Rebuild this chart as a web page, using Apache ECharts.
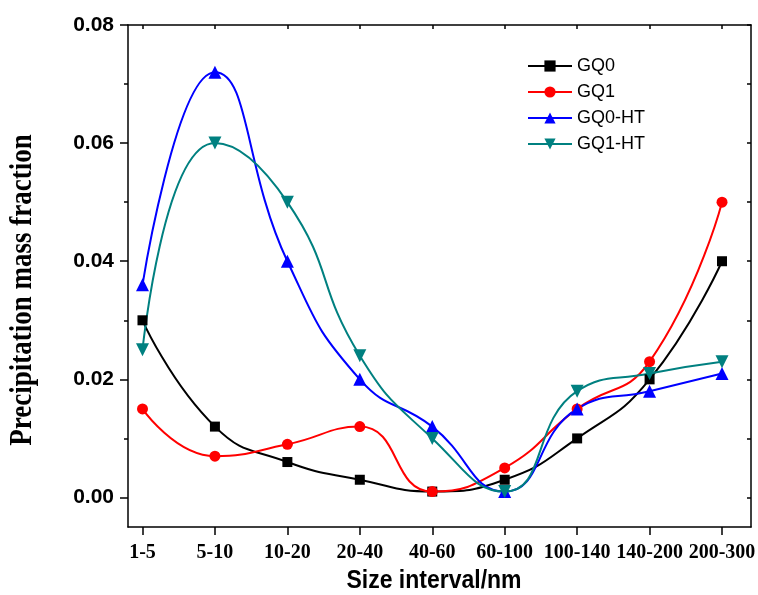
<!DOCTYPE html>
<html><head><meta charset="utf-8">
<script src="https://cdn.jsdelivr.net/npm/echarts@6/dist/echarts.min.js"></script>
<style>html,body{margin:0;padding:0;background:#fff}#c{width:758px;height:595px}</style>
</head><body><div id="c"></div>
<script>
const categories = ['1-5','5-10','10-20','20-40','40-60','60-100','100-140','140-200','200-300'];
const gq0   = [0.030,0.012,0.006,0.003,0.001,0.003,0.010,0.020,0.040];
const gq1   = [0.015,0.007,0.009,0.012,0.001,0.005,0.015,0.023,0.050];
const gq0ht = [0.036,0.072,0.040,0.020,0.012,0.001,0.015,0.018,0.021];
const gq1ht = [0.025,0.060,0.050,0.024,0.010,0.001,0.018,0.021,0.023];
const yTicks = [0,0.02,0.04,0.06,0.08];
const yMinorTicks = [0.01,0.03,0.05,0.07];
const yAllTicks = [0,0.01,0.02,0.03,0.04,0.05,0.06,0.07,0.08];

const idx = categories.map((c,i)=>i);
const toPts = arr => arr.map((v,i)=>[i,v]);

const chart = echarts.init(document.getElementById('c'), null, {renderer:'canvas'});
const axisLine = {show:true, onZero:false, lineStyle:{color:'#000', width:1.5}};
const xBase = {type:'value', min:-0.2, max:8.4, splitLine:{show:false}};
const yBase = {type:'value', min:-0.005, max:0.08, splitLine:{show:false}};

const mk = (name, data, color, symbol, size, rot) => ({
  name, type:'line', data: toPts(data), smooth:true,
  symbol, symbolSize:size, symbolRotate: rot||0,
  lineStyle:{color, width:2}, itemStyle:{color},
  xAxisIndex:0, yAxisIndex:0
});

chart.setOption({
  animation:false,
  backgroundColor:'#fff',
  grid:{left:128, right:7, top:25, bottom:68, containLabel:false, outerBoundsMode:'none'},
  legend:{
    data:['GQ0','GQ1','GQ0-HT','GQ1-HT'],
    orient:'vertical', left:522, top:51,
    itemWidth:44, itemHeight:14, itemGap:6,
    textStyle:{fontSize:18, fontFamily:'"Liberation Sans", Arial', color:'#000', lineHeight:20}
  },
  xAxis:[
    Object.assign({}, xBase, {position:'bottom', axisLine,
      axisTick:{show:true, inside:false, length:8, customValues:idx, lineStyle:{color:'#000', width:1.5}},
      axisLabel:{show:true, customValues:idx, margin:16, formatter:v=>categories[Math.round(v)],
        fontFamily:'"Liberation Serif", "Times New Roman", serif', fontWeight:'bold', fontSize:20, color:'#000'}}),
    Object.assign({}, xBase, {position:'top', axisLine,
      axisTick:{show:true, inside:true, length:4, customValues:idx, lineStyle:{color:'#000', width:1.5}},
      axisLabel:{show:false}})
  ],
  yAxis:[
    Object.assign({}, yBase, {position:'left', axisLine,
      axisTick:{show:true, inside:false, length:8, customValues:yTicks, lineStyle:{color:'#000', width:1.5}},
      axisLabel:{show:true, customValues:yTicks, margin:14, formatter:v=>Number(v).toFixed(2),
        fontFamily:'"Liberation Sans", Arial', fontWeight:'bold', fontSize:21, color:'#000'}}),
    Object.assign({}, yBase, {position:'left', axisLine:{show:false, onZero:false},
      axisTick:{show:true, inside:false, length:4, customValues:yMinorTicks, lineStyle:{color:'#000', width:1.5}},
      axisLabel:{show:false}}),
    Object.assign({}, yBase, {position:'right', axisLine,
      axisTick:{show:true, inside:true, length:4, customValues:yAllTicks, lineStyle:{color:'#000', width:1.5}},
      axisLabel:{show:false}})
  ],
  graphic:[
    {type:'text', x:23, y:290, rotation:Math.PI/2, scaleY:1.2,
     style:{text:'Precipitation mass fraction', font:'bold 27px "Liberation Serif", "Times New Roman", serif',
       fill:'#000', align:'center', verticalAlign:'middle', textAlign:'center', textVerticalAlign:'middle'}},
    {type:'text', x:434, y:581, scaleY:1.09,
     style:{text:'Size interval/nm', font:'bold 23px "Liberation Sans", Arial, sans-serif',
       fill:'#000', align:'center', verticalAlign:'middle', textAlign:'center', textVerticalAlign:'middle'}}
  ],
  series:[
    mk('GQ0', gq0, '#000000', 'rect', 10),
    mk('GQ1', gq1, '#ff0000', 'circle', 11),
    mk('GQ0-HT', gq0ht, '#0000ff', 'triangle', 13),
    mk('GQ1-HT', gq1ht, '#008080', 'triangle', 13, 180)
  ]
});
</script></body></html>
